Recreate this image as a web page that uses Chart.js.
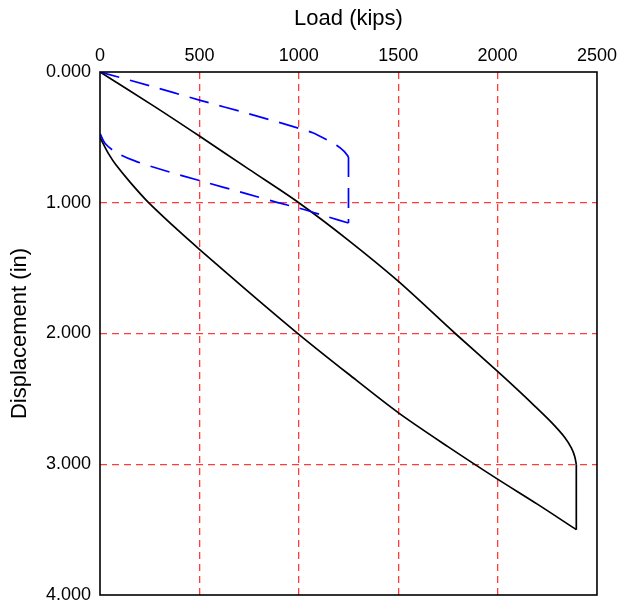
<!DOCTYPE html>
<html>
<head>
<meta charset="utf-8">
<script src="https://cdn.jsdelivr.net/npm/chart.js@4"></script>
<style>
  html, body { margin: 0; padding: 0; background: #fff; }
  #wrap { width: 622px; height: 605px; }
</style>
</head>
<body>
<div id="wrap"><canvas id="chart" width="622" height="605"></canvas></div>
<script>
// tick values
const loadTicks = [0, 500, 1000, 1500, 2000, 2500];
const dispTicks = [0, 1, 2, 3, 4];

// black curve (full load test)
const blackLoadKips = [0, 275, 500, 750, 1000, 1250, 1500, 1787, 2000, 2104, 2187, 2271, 2338, 2371, 2388, 2396];
const blackLoadDisp = [0, 0.265, 0.49, 0.745, 1.0, 1.2875, 1.60, 2.0, 2.29, 2.435, 2.555, 2.68, 2.795, 2.875, 2.94, 3.0];
const blackUnloadKips = [2396, 2200, 1996, 1750, 1500, 1250, 1000, 750, 500, 392, 242, 150, 80, 45, 20, 0];
const blackUnloadDisp = [3.5, 3.305, 3.11, 2.865, 2.605, 2.31, 2.006, 1.685, 1.356, 1.21, 0.995, 0.84, 0.71, 0.63, 0.56, 0.5];

// blue dashed curve (first cycle)
const blueLoadKips = [0, 250, 500, 750, 1000, 1070, 1136, 1190, 1227, 1250];
const blueLoadDisp = [0, 0.105, 0.215, 0.32, 0.43, 0.465, 0.515, 0.56, 0.605, 0.65];
const blueUnloadKips = [1250, 1152, 1000, 885, 735, 500, 333, 175, 78, 25, 0];
const blueUnloadDisp = [1.155, 1.11, 1.04, 0.995, 0.93, 0.83, 0.757, 0.68, 0.612, 0.545, 0.47];

const pts = (xs, ys) => xs.map((x, i) => ({ x: x, y: ys[i] }));
const link = (xs1, ys1, xs2, ys2) => [
    { x: xs1[xs1.length - 1], y: ys1[ys1.length - 1] },
    { x: xs2[0], y: ys2[0] }
];

function line(data, color, dash, tension) {
    return {
        data: data,
        borderColor: color,
        borderWidth: 1.7,
        borderDash: dash,
        pointRadius: 0,
        fill: false,
        showLine: true,
        tension: tension
    };
}

const blueDash = [20, 11];
const datasets = [
    line(pts(blueLoadKips, blueLoadDisp), '#0000ff', blueDash, 0.3),
    line(link(blueLoadKips, blueLoadDisp, blueUnloadKips, blueUnloadDisp), '#0000ff', blueDash, 0),
    line(pts(blueUnloadKips, blueUnloadDisp), '#0000ff', blueDash, 0.3),
    line(pts(blackLoadKips, blackLoadDisp), '#000000', [], 0.3),
    line(link(blackLoadKips, blackLoadDisp, blackUnloadKips, blackUnloadDisp), '#000000', [], 0),
    line(pts(blackUnloadKips, blackUnloadDisp), '#000000', [], 0.3)
];

// frame round the plot area
const frame = {
    id: 'frame',
    afterDatasetsDraw(chart) {
        const a = chart.chartArea;
        const ctx = chart.ctx;
        ctx.save();
        ctx.strokeStyle = '#000';
        ctx.lineWidth = 1.6;
        ctx.setLineDash([]);
        ctx.strokeRect(a.left, a.top, a.right - a.left, a.bottom - a.top);
        ctx.restore();
    }
};

const gridColor = (min, max) => (c) => {
    const v = c.tick ? c.tick.value : null;
    return (v === min || v === max) ? 'rgba(0,0,0,0)' : 'rgba(255,40,40,0.9)';
};

const fontFamily = 'Liberation Sans, Arial, sans-serif';

new Chart(document.getElementById('chart'), {
    type: 'scatter',
    data: { datasets: datasets },
    plugins: [frame],
    options: {
        responsive: false,
        animation: false,
        layout: { padding: { top: 0, right: 24, bottom: 0, left: 0 } },
        plugins: { legend: { display: false }, tooltip: { enabled: false } },
        scales: {
            x: {
                type: 'linear',
                position: 'top',
                min: 0,
                max: 2500,
                afterBuildTicks: (s) => { s.ticks = loadTicks.map(v => ({ value: v })); },
                afterFit: (s) => { s.height = 72; },
                title: {
                    display: true,
                    text: 'Load (kips)',
                    color: '#000',
                    font: { family: fontFamily, size: 22 },
                    padding: { top: 6, bottom: 4 }
                },
                ticks: {
                    color: '#000',
                    padding: 5,
                    maxRotation: 0,
                    callback: (v) => String(v),
                    font: { family: fontFamily, size: 18 }
                },
                border: { display: false, dash: [7, 5] },
                grid: {
                    color: gridColor(0, 2500),
                    lineWidth: 1.3,
                    drawTicks: false
                }
            },
            y: {
                type: 'linear',
                reverse: true,
                min: 0,
                max: 4,
                afterBuildTicks: (s) => { s.ticks = dispTicks.map(v => ({ value: v })); },
                afterFit: (s) => { s.width = 100; s.paddingBottom = 10; },
                title: {
                    display: true,
                    text: 'Displacement (in)',
                    color: '#000',
                    font: { family: fontFamily, size: 22 },
                    padding: { top: 7, bottom: 4 }
                },
                ticks: {
                    color: '#000',
                    padding: 9,
                    callback: (v) => Number(v).toFixed(3),
                    font: { family: fontFamily, size: 18 }
                },
                border: { display: false, dash: [7, 5] },
                grid: {
                    color: gridColor(0, 4),
                    lineWidth: 1.3,
                    drawTicks: false
                }
            }
        }
    }
});
</script>
</body>
</html>
